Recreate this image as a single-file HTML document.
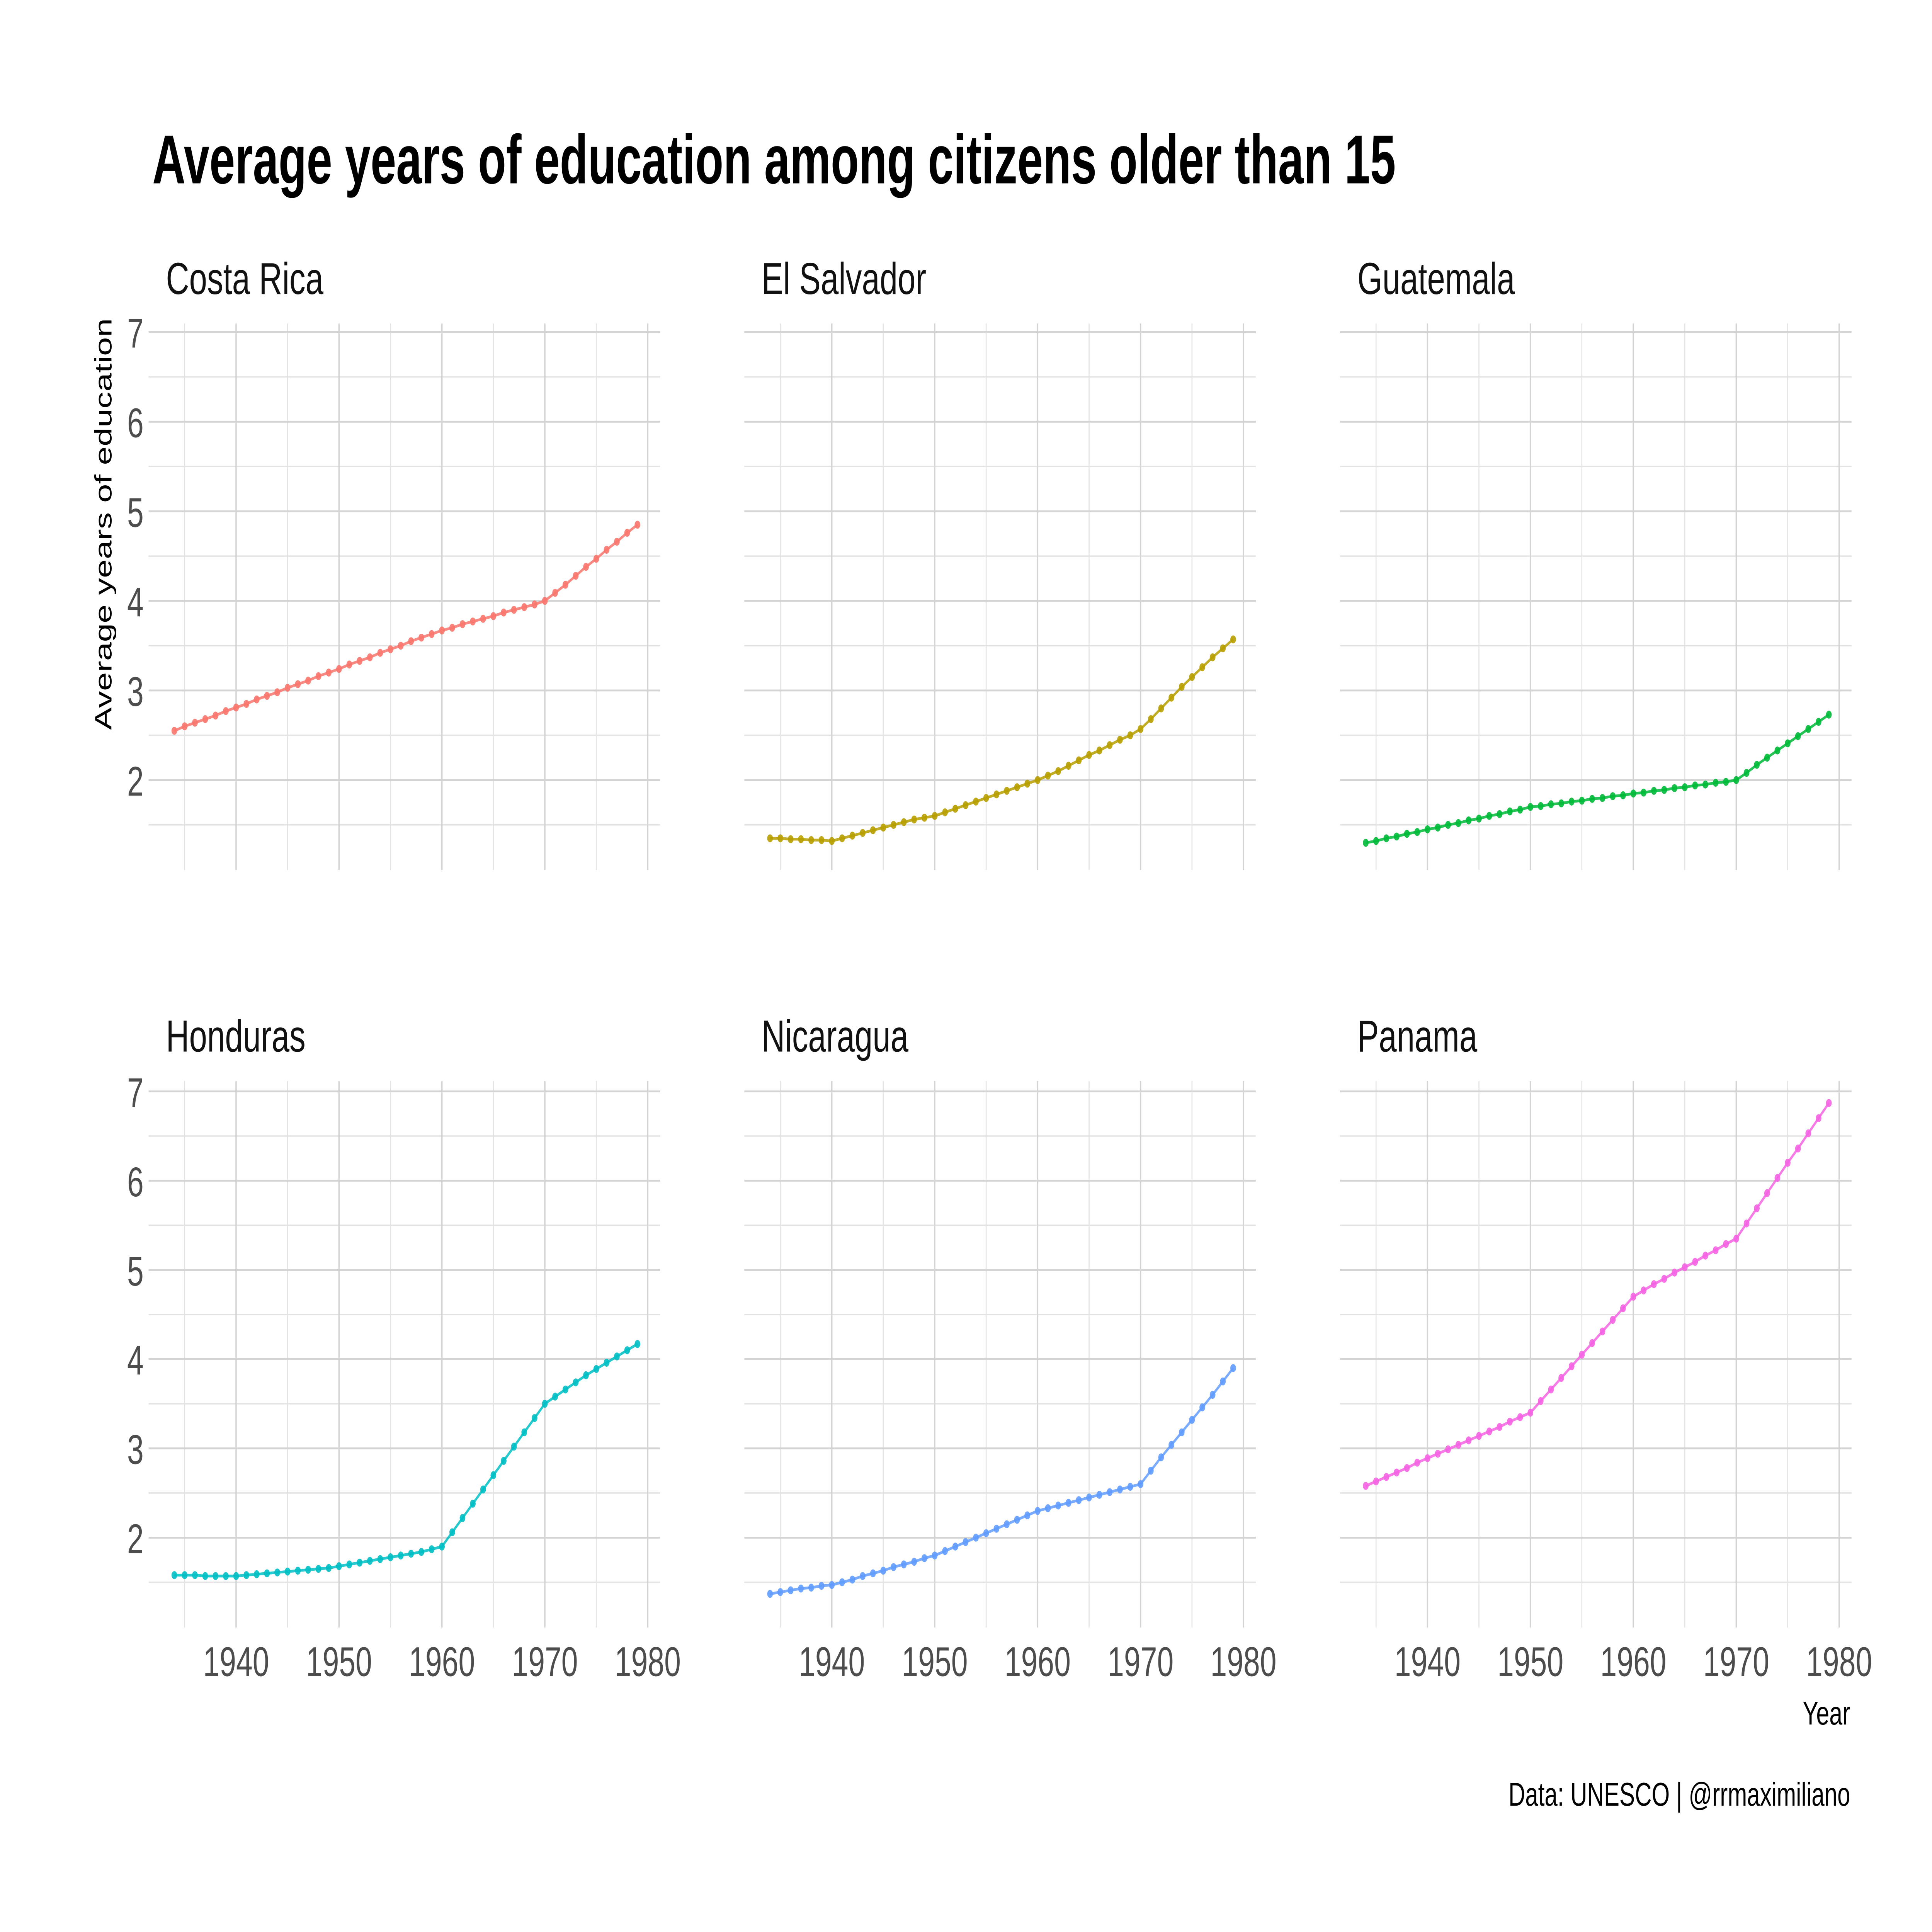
<!DOCTYPE html>
<html><head><meta charset="utf-8"><style>
html,body{margin:0;padding:0;background:#fff;width:100%;height:100%;overflow:hidden;}
svg{display:block;position:fixed;left:0;top:0;width:100vw;height:100vh;}
text{font-family:"Liberation Sans",sans-serif;}
</style></head><body>
<svg id="chart" viewBox="0 0 1560 1117" preserveAspectRatio="none" xmlns="http://www.w3.org/2000/svg">
<rect width="1560" height="1117" fill="#fff"/>
<text x="123" y="106" font-size="40" font-weight="bold" fill="#000" textLength="1004" lengthAdjust="spacingAndGlyphs">Average years of education among citizens older than 15</text>
<text transform="translate(90,303) rotate(-90)" text-anchor="middle" font-size="19" fill="#000" textLength="238" lengthAdjust="spacingAndGlyphs">Average years of education</text>
<text x="1494" y="997" text-anchor="end" font-size="19" fill="#000">Year</text>
<text x="1494" y="1044" text-anchor="end" font-size="19" fill="#000" textLength="276" lengthAdjust="spacingAndGlyphs">Data: UNESCO | @rrmaximiliano</text>
<g id="panels"></g>
</svg>
<script>
const countries = ["Costa Rica","El Salvador","Guatemala","Honduras","Nicaragua","Panama"];
const colors = ["#F8766D","#B79F00","#00BA38","#00BFC4","#619CFF","#F564E3"];
const startYear = 1934;
const costaRica = [2.55,2.60,2.64,2.68,2.72,2.77,2.81,2.85,2.90,2.94,2.98,3.03,3.07,3.11,3.16,3.20,3.24,3.29,3.33,3.37,3.42,3.46,3.50,3.55,3.59,3.63,3.67,3.70,3.74,3.77,3.80,3.83,3.87,3.90,3.93,3.96,4.00,4.09,4.18,4.28,4.38,4.47,4.57,4.66,4.76,4.85];
const elSalvador = [1.35,1.35,1.34,1.34,1.33,1.33,1.32,1.35,1.38,1.41,1.44,1.47,1.50,1.53,1.56,1.58,1.60,1.64,1.68,1.72,1.76,1.80,1.84,1.88,1.92,1.96,2.00,2.05,2.10,2.16,2.22,2.28,2.33,2.39,2.45,2.50,2.57,2.68,2.80,2.92,3.04,3.15,3.26,3.37,3.47,3.57];
const guatemala = [1.30,1.32,1.35,1.37,1.40,1.42,1.45,1.47,1.50,1.52,1.55,1.57,1.60,1.62,1.65,1.67,1.70,1.71,1.73,1.74,1.76,1.77,1.79,1.80,1.82,1.83,1.85,1.86,1.88,1.89,1.91,1.92,1.94,1.95,1.97,1.98,2.00,2.08,2.17,2.25,2.33,2.41,2.49,2.57,2.65,2.73];
const honduras = [1.58,1.58,1.58,1.57,1.57,1.57,1.57,1.58,1.59,1.60,1.61,1.62,1.63,1.64,1.65,1.66,1.68,1.70,1.72,1.74,1.76,1.78,1.80,1.82,1.84,1.87,1.90,2.06,2.22,2.38,2.54,2.70,2.86,3.02,3.18,3.34,3.50,3.58,3.66,3.74,3.82,3.89,3.96,4.03,4.10,4.17];
const nicaragua = [1.37,1.39,1.41,1.43,1.44,1.46,1.47,1.50,1.53,1.57,1.60,1.63,1.67,1.70,1.73,1.77,1.80,1.85,1.90,1.95,2.00,2.05,2.10,2.15,2.20,2.25,2.30,2.33,2.36,2.39,2.42,2.45,2.48,2.51,2.54,2.57,2.60,2.75,2.90,3.04,3.18,3.32,3.46,3.60,3.75,3.90];
const panama = [2.58,2.63,2.68,2.73,2.78,2.84,2.89,2.94,2.99,3.04,3.09,3.14,3.19,3.24,3.30,3.35,3.40,3.53,3.66,3.79,3.92,4.05,4.18,4.31,4.44,4.57,4.70,4.77,4.84,4.90,4.97,5.03,5.09,5.16,5.22,5.29,5.35,5.52,5.69,5.86,6.03,6.20,6.36,6.53,6.70,6.87];
const seriesList = [costaRica,elSalvador,guatemala,honduras,nicaragua,panama];
const xTicks = [1940,1950,1960,1970,1980];
const xMinor = [1935,1945,1955,1965,1975];
const yTicks = [2,3,4,5,6,7];
const yMinor = [1.5,2.5,3.5,4.5,5.5,6.5];

const NS="http://www.w3.org/2000/svg";
const g=document.getElementById('panels');
function mk(tag,attrs,parent){const e=document.createElementNS(NS,tag);for(const k in attrs)e.setAttribute(k,attrs[k]);(parent||g).appendChild(e);return e;}
const pw=413, colOff=481, rowTop=[187,625], ph=316;
function xs(col){return y=>120+col*colOff+(y-1931.5)*(pw/49.7);}
function ys(row){const y7=row===0?192:631, y2=row===0?451:889;return v=>y2-(v-2)*(y7-y2)/-5;}
countries.forEach((name,i)=>{
  const col=i%3,row=Math.floor(i/3);
  const X=xs(col),Y=ys(row);
  const x0=120+col*colOff, y0=rowTop[row];
  const pg=mk('g',{});
  
  
  yMinor.forEach(v=>{const l=mk('line',{x1:x0,x2:x0+pw,y1:Y(v),y2:Y(v),stroke:'#e3e3e3','stroke-width':0.8},pg);});
  xMinor.forEach(v=>{const l=mk('line',{x1:X(v),x2:X(v),y1:y0,y2:y0+ph,stroke:'#e3e3e3','stroke-width':0.8},pg);});
  yTicks.forEach(v=>{const l=mk('line',{x1:x0,x2:x0+pw,y1:Y(v),y2:Y(v),stroke:'#d4d4d4','stroke-width':1.1},pg);});
  xTicks.forEach(v=>{const l=mk('line',{x1:X(v),x2:X(v),y1:y0,y2:y0+ph,stroke:'#d4d4d4','stroke-width':1.1},pg);});
  const st=mk('text',{x:x0+14,y:y0-17,'font-size':26,fill:'#111'},pg);st.textContent=name;
  
  if(col===0){yTicks.forEach(v=>{const t=mk('text',{x:x0-4,y:Y(v)+9,'font-size':24,fill:'#4d4d4d','text-anchor':'end'},pg);t.textContent=v;});}
  if(row===1){xTicks.forEach(v=>{const t=mk('text',{x:X(v),y:y0+ph+28,'font-size':24,fill:'#4d4d4d','text-anchor':'middle'},pg);t.textContent=v;});}
  const data=seriesList[i];
  const pts=data.map((v,k)=>X(startYear+k).toFixed(2)+','+Y(v).toFixed(2)).join(' ');
  const pl=mk('polyline',{points:pts,fill:'none',stroke:colors[i],'stroke-width':1.6,'stroke-opacity':0.85},pg);
  
  data.forEach((v,k)=>{const c=mk('circle',{cx:X(startYear+k),cy:Y(v),r:2.3,fill:colors[i],'fill-opacity':0.9},pg);});
});
</script>
</body></html>
